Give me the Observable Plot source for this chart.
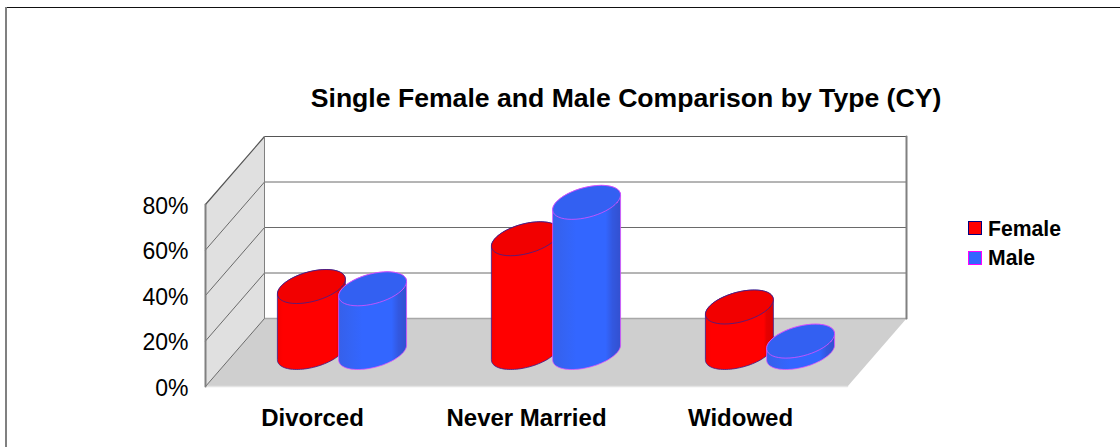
<!DOCTYPE html>
<html>
<head>
<meta charset="utf-8">
<script src="https://cdn.jsdelivr.net/npm/d3@7"></script>
<script src="https://cdn.jsdelivr.net/npm/@observablehq/plot@0.6"></script>
<style>
  html, body { margin: 0; padding: 0; background: #fff; overflow: hidden; }
  #page { position: relative; width: 1120px; height: 447px; font-family: "Liberation Sans", Arial, sans-serif; color: #000; }
  #page svg { position: absolute; left: 0; top: 0; }
  #edge-top { position: absolute; left: 5px; top: 7px; right: 0; height: 1px; background: #111; z-index: 1; }
  #edge-left { position: absolute; left: 5px; top: 7px; bottom: 0; width: 2px; background: #808080; z-index: 1; }
  #title { position: absolute; left: 0; width: 1252px; top: 83px; text-align: center; font-weight: bold; font-size: 26.6px; line-height: 30px; white-space: nowrap; z-index: 1; }
  .key { position: absolute; left: 968px; width: 12px; height: 12px; border: 1px solid; z-index: 1; }
  .key-label { position: absolute; left: 988px; font-weight: bold; font-size: 21.2px; line-height: 24px; z-index: 1; }
</style>
</head>
<body>
<div id="page">
  <div id="edge-top"></div>
  <div id="edge-left"></div>
  <div id="title">Single Female and Male Comparison by Type (CY)</div>
  <div class="key" style="top:221px;background:#ff0000;border-color:#000080"></div>
  <div class="key-label" style="top:217px">Female</div>
  <div class="key" style="top:251px;background:#3366ff;border-color:#ff00ff"></div>
  <div class="key-label" style="top:246px">Male</div>
</div>
<script>
// Share of singles per type, in percent
const categories = ["Divorced", "Never Married", "Widowed"];
const female = [29, 50, 20];
const male = [28, 66, 5];
const yTicks = [0, 20, 40, 60, 80];

// Oblique projection: one unit of depth shifts a point along both scales
const DEPTH_X = 59 / 214;   // in category units
const DEPTH_Y = 68 / 2.275; // in percent units
const project = (cat, depth, value) => ({x: cat + depth * DEPTH_X, y: value + depth * DEPTH_Y});

// Cylinder footprint: half-width along the category axis and half-depth
const RX = 0.143;
const RD = 0.25;
const TANGENT = Math.atan2(RD * 59, RX * 214);

const rimPoint = (center, value, t) =>
  project(center + RX * Math.cos(t), 0.5 + RD * Math.sin(t), value);

function arc(center, value, from, to) {
  const steps = 48;
  return d3.range(steps + 1).map(i => rimPoint(center, value, from + (to - from) * i / steps));
}

// Outline of the visible side: front of the base, then back over the top rim
const sideOutline = (center, value) => [
  ...arc(center, 0, TANGENT + Math.PI, TANGENT + 2 * Math.PI),
  ...arc(center, value, TANGENT, TANGENT + Math.PI)
];
const topOutline = (center, value) => arc(center, value, 0, 2 * Math.PI);

// One series offset from the category centre by half a bar either way
const seriesStyles = [
  {values: female, offset: -RX, side: "url(#red-side)", top: "#f20000", edge: "#3a2090"},
  {values: male, offset: RX, side: "url(#blue-side)", top: "#3360f2", edge: "#e050ff"}
];

const cylinderMarks = categories.flatMap((_, i) =>
  seriesStyles.flatMap(s => {
    const center = i + 0.5 + s.offset;
    const v = s.values[i];
    return [
      Plot.line(sideOutline(center, v), {x: "x", y: "y", curve: "linear-closed", fill: s.side, stroke: s.edge, strokeWidth: 0.8}),
      Plot.line(topOutline(center, v), {x: "x", y: "y", curve: "linear-closed", fill: s.top, stroke: s.edge, strokeWidth: 0.8})
    ];
  })
);

// Chart box: left wall, floor and the rule lines at each tick
const catCount = categories.length;
const topTick = yTicks[yTicks.length - 1];
const leftWall = [project(0, 0, 0), project(0, 1, 0), project(0, 1, topTick), project(0, 0, topTick)];
const floorPlane = [project(0, 0, 0), project(catCount, 0, 0), project(catCount, 1, 0), project(0, 1, 0)];
const rule = v => [project(0, 0, v), project(0, 1, v), project(catCount, 1, v)];

const chart = Plot.plot({
  width: 1120,
  height: 447,
  marginLeft: 205,
  marginRight: 214,
  marginTop: 136,
  marginBottom: 61,
  style: {fontFamily: "'Liberation Sans', Arial, sans-serif", background: "transparent", overflow: "visible"},
  x: {domain: [0, catCount + DEPTH_X], axis: null},
  y: {domain: [0, topTick + DEPTH_Y]},
  marks: [
    Plot.line(leftWall, {x: "x", y: "y", curve: "linear-closed", fill: "#e0e0e0"}),
    Plot.line(floorPlane, {x: "x", y: "y", curve: "linear-closed", fill: "#cfcfcf"}),
    Plot.line([project(0, 0, 0), project(catCount, 0, 0)], {x: "x", y: "y", stroke: "#e4e4e4", strokeWidth: 1.5}),
    ...yTicks.filter(v => v > 0 && v < topTick).map(v =>
      Plot.line(rule(v), {x: "x", y: "y", stroke: "#6a6a6a", strokeWidth: 1})),
    Plot.line(rule(0).slice(0, 2), {x: "x", y: "y", stroke: "#6a6a6a", strokeWidth: 1}),
    Plot.line([project(0, 1, 0), project(catCount, 1, 0)], {x: "x", y: "y", stroke: "#a8a8a8", strokeWidth: 1.5}),
    Plot.line(rule(topTick), {x: "x", y: "y", stroke: "#555555", strokeWidth: 1.2}),
    Plot.line([project(0, 1, 0), project(0, 1, topTick)], {x: "x", y: "y", stroke: "#808080", strokeWidth: 1}),
    Plot.line([project(0, 0, 0), project(0, 0, topTick)], {x: "x", y: "y", stroke: "#808080", strokeWidth: 2}),
    Plot.line([project(catCount, 1, 0), project(catCount, 1, topTick)], {x: "x", y: "y", stroke: "#808080", strokeWidth: 2}),
    ...cylinderMarks,
    Plot.axisY(yTicks, {
      anchor: "left",
      label: null,
      tickSize: 0,
      tickPadding: 17,
      tickFormat: d => d + "%",
      fontSize: 23,
      dy: 2,
      fill: "#000"
    }),
    Plot.text(categories, {
      x: (_, i) => i + 0.5,
      y: () => 0,
      dy: 32,
      text: d => d,
      fontSize: 24,
      fontWeight: "bold",
      fill: "#000"
    })
  ]
});

// Shading across the cylinder sides
const defs = d3.select(chart).insert("defs", ":first-child");
const shade = (id, stops) => {
  const g = defs.append("linearGradient").attr("id", id).attr("x1", 0).attr("x2", 1).attr("y1", 0).attr("y2", 0);
  stops.forEach(([o, c]) => g.append("stop").attr("offset", o).attr("stop-color", c));
};
shade("red-side", [[0, "#f40000"], [0.08, "#ff0000"], [0.86, "#ff0000"], [0.9, "#e60000"], [1, "#dc0000"]]);
shade("blue-side", [[0, "#3660ea"], [0.2, "#3464f6"], [0.35, "#3366ff"], [0.78, "#3366ff"], [0.88, "#3358e0"], [1, "#3350d0"]]);

document.getElementById("page").prepend(chart);
</script>
</body>
</html>
